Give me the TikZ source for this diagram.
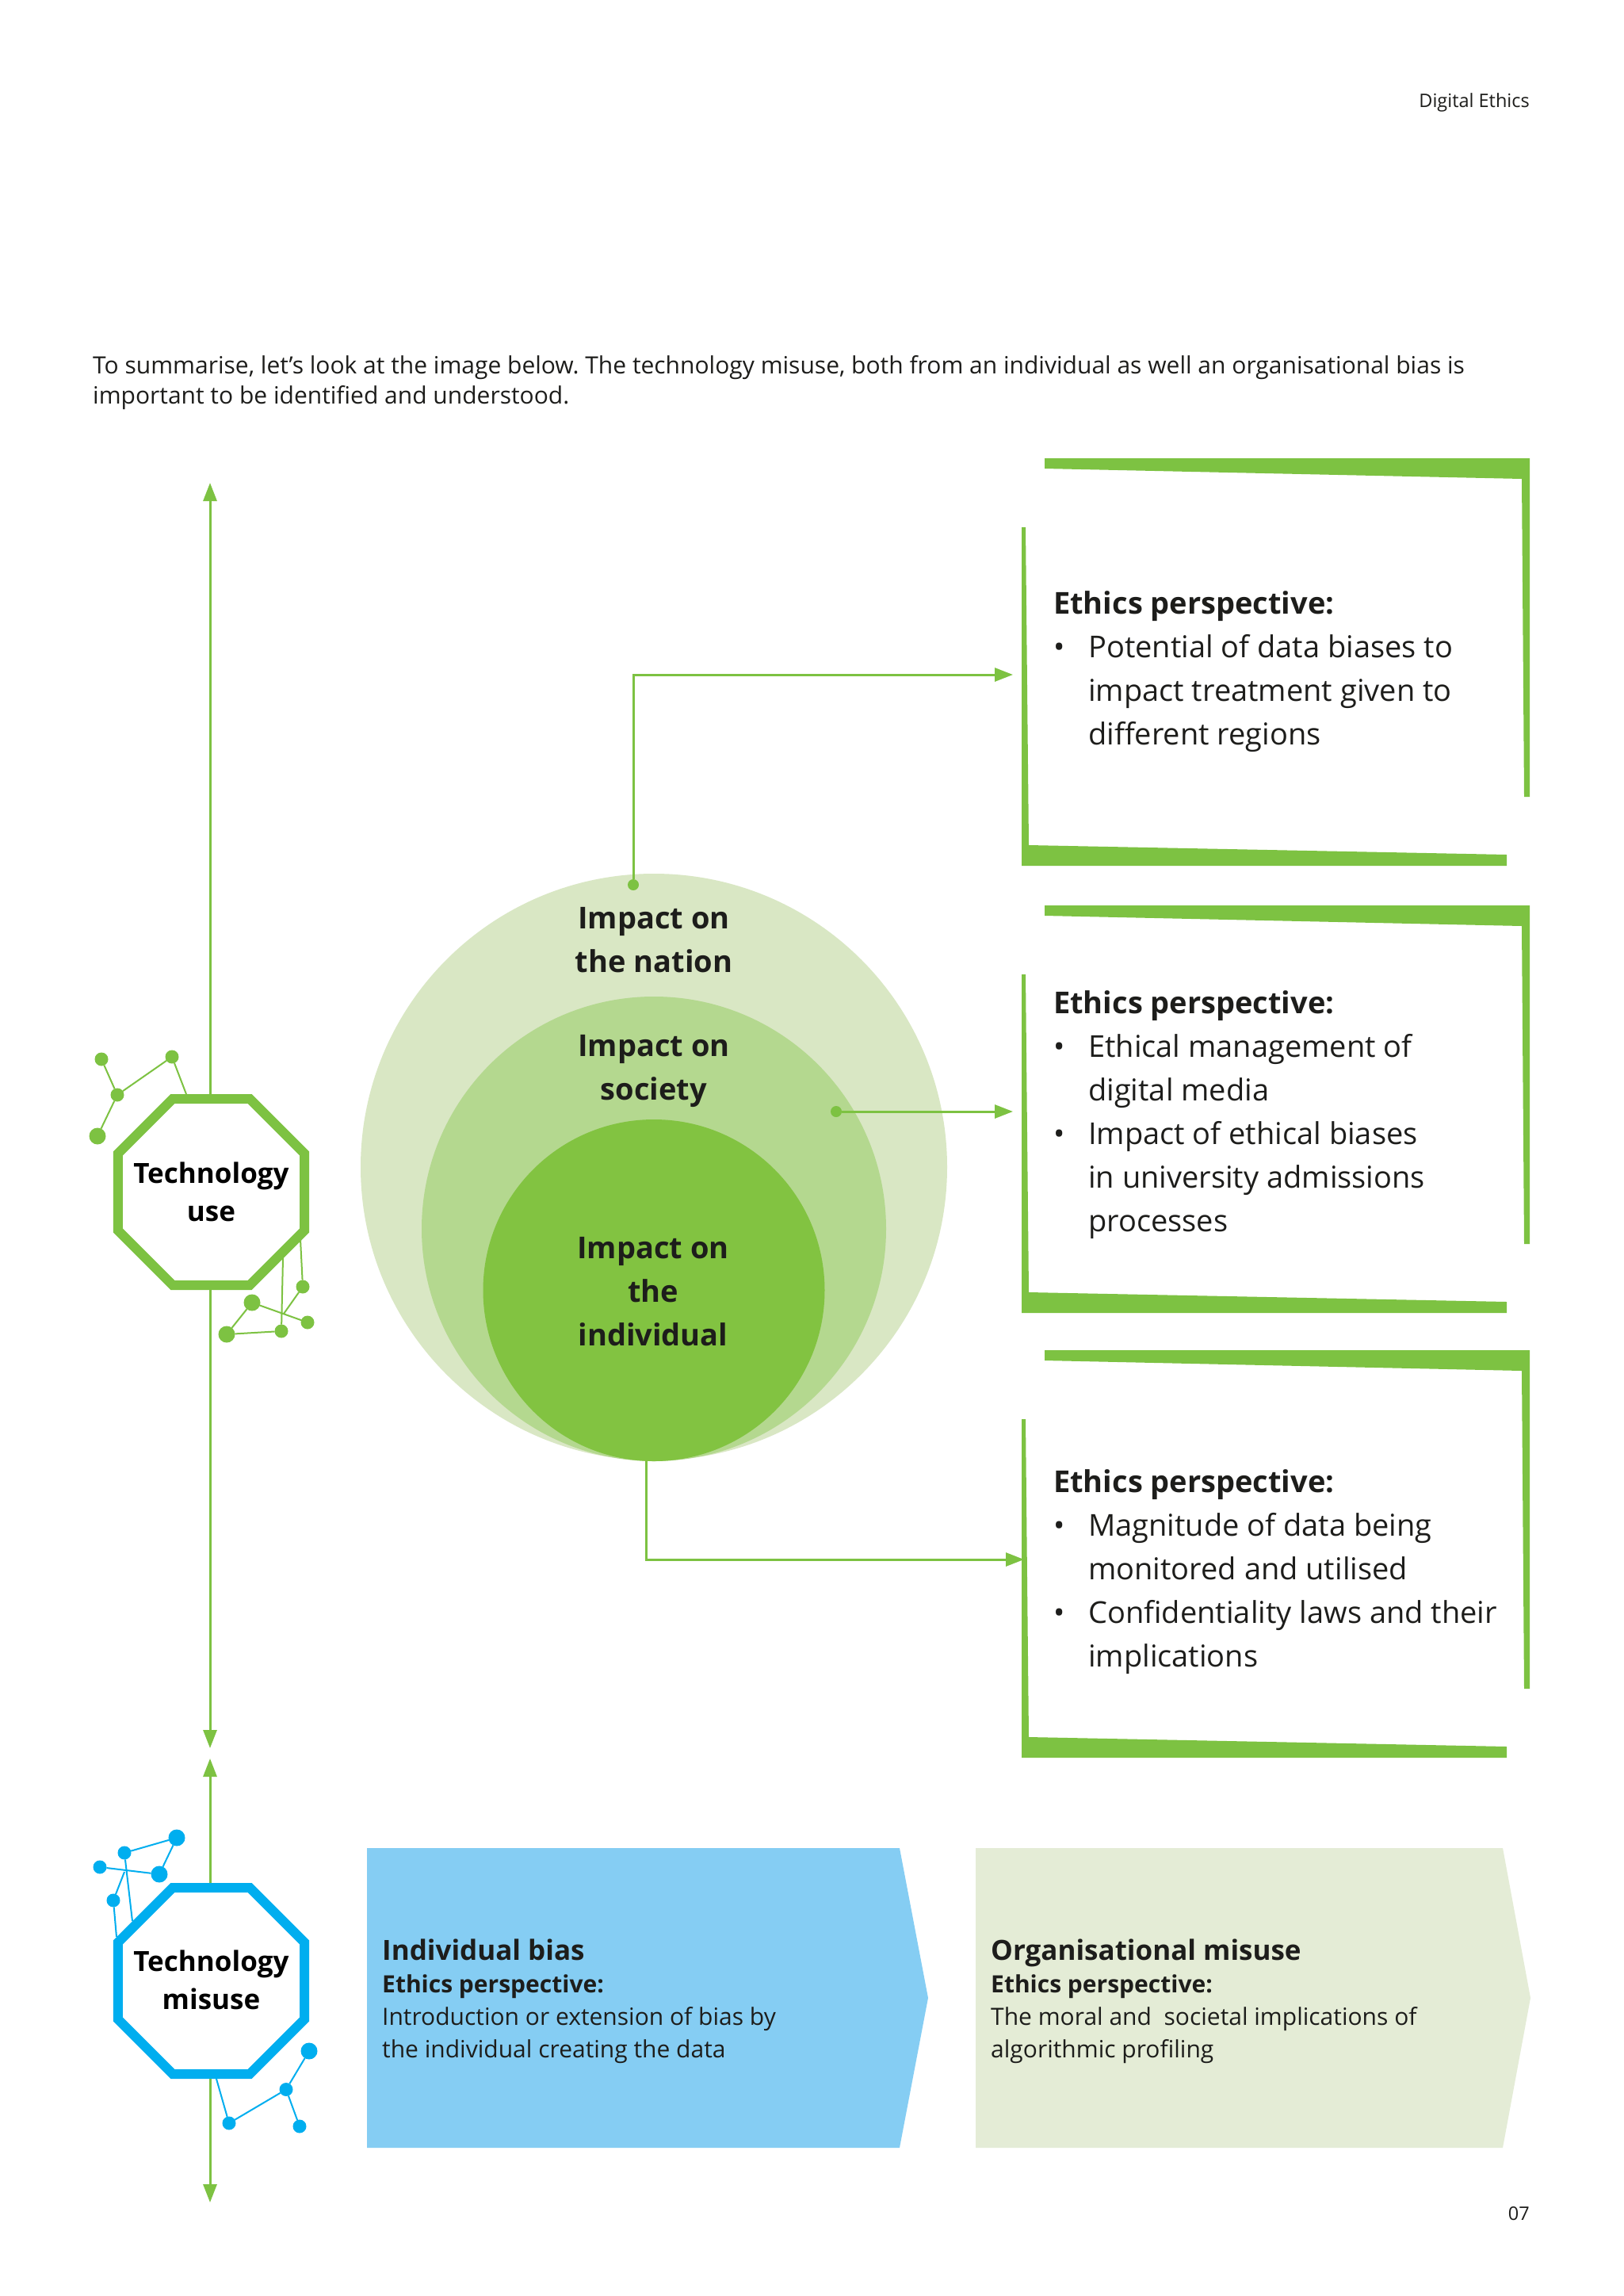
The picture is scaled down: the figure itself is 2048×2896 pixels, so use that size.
\documentclass[tikz,border=0pt]{standalone}
\usepackage{fontspec}
\setmainfont{Open Sans}
\usetikzlibrary{arrows.meta,shapes.geometric}
\frenchspacing
\definecolor{gr}{HTML}{7DC242}
\definecolor{bl}{HTML}{00AEEF}
\definecolor{cA}{HTML}{D9E7C4}
\definecolor{cB}{HTML}{B4D88F}
\definecolor{cC}{HTML}{82C341}
\definecolor{chB}{HTML}{85CDF3}
\definecolor{chG}{HTML}{E4ECD6}
\definecolor{ink}{HTML}{1D1D1B}
\newcommand{\fsz}[2]{\fontsize{#1pt}{#2pt}\selectfont}
\newcommand{\bul}{\makebox[44pt][l]{•}}
\newcommand{\ind}{\hspace*{44pt}}
\tikzset{
  x=1pt,y=-1pt,
  link/.style={gr,line width=3pt},
  arrowed/.style={link,-{Triangle[length=23pt,width=17pt]}},
  octa/.style={regular polygon,regular polygon sides=8,minimum size=254.4pt,inner sep=0pt,outer sep=0pt,
     line width=12pt,fill=white},
  octatext/.style={align=center,inner sep=0pt,text=black,font=\fsz{35}{48}\bfseries},
  gs/.style={circle,fill=gr,inner sep=0pt,outer sep=0pt,minimum size=17pt},
  gl/.style={circle,fill=gr,inner sep=0pt,outer sep=0pt,minimum size=21pt},
  bs/.style={circle,fill=bl,inner sep=0pt,outer sep=0pt,minimum size=17pt},
  bbig/.style={circle,fill=bl,inner sep=0pt,outer sep=0pt,minimum size=21pt},
  gline/.style={gr,line width=2pt},
  bline/.style={bl,line width=2pt},
  disc/.style={circle,inner sep=0pt,outer sep=0pt},
  pad/.style={circle,fill=gr,inner sep=0pt,outer sep=0pt,minimum size=14pt},
  circtext/.style={align=center,text=ink,inner sep=0pt,font=\fsz{38}{55}\bfseries},
  boxtext/.style={anchor=west,align=left,inner sep=0pt,text=ink,font=\fsz{38}{55}},
  chevtext/.style={anchor=west,align=left,inner sep=0pt,text=ink,font=\fsz{30}{41}},
  plain/.style={inner sep=0pt,text=ink,font=\fsz{23.5}{38}},
}
\newcommand{\ebrack}[1]{%
  \begin{scope}[shift={(0,#1)}]
    \fill[gr] (1318,578)--(1930,578)--(1930,1005)--(1923,1005)--(1920,604)--(1318,591)--cycle;
    \fill[gr] (1289,665)--(1294,665)--(1298,1066)--(1901,1078)--(1901,1092)--(1289,1092)--cycle;
  \end{scope}}
\begin{document}
\begin{tikzpicture}
\useasboundingbox[fill=white] (0,0) rectangle (2048,2896);
% header and intro
\node[plain,anchor=east] (head) at (1930,129) {Digital Ethics};
\node[plain,anchor=west,align=left,font=\fsz{30}{38}] (intro) at (117,483)
  {To summarise, let’s look at the image below. The technology misuse, both from an individual as well an organisational bias is\\important to be identified and understood.};
\node[plain,anchor=east] (pageno) at (1930,2792) {07};
% circles
\node[disc,fill=cA,minimum size=740pt] (nation) at (825,1472) {};
\node[disc,fill=cB,minimum size=586pt] (society) at (825,1550) {};
\node[disc,fill=cC,minimum size=431pt] (indiv) at (825,1627.5) {};
\node[circtext] (tindiv) at (824,1629) {Impact on\\the\\individual};
\node[circtext] (tnation) at (825,1186) {Impact on\\the nation};
\node[circtext] (tsociety) at (825,1351) {Impact on\\society};
% octagons
\node[octa,draw=gr] (use) at (266.5,1503.5) {};
\node[octa,draw=bl] (misuse) at (266.5,2498.5) {};
\node[octatext] (tuse) at (266.5,1503) {Technology\\use};
\node[octatext] (tmisuse) at (266.5,2497) {Technology\\misuse};
% axis
\coordinate (topT) at (265,609);
\coordinate (midT) at (265,2205);
\coordinate (midB) at (265,2218);
\coordinate (botT) at (265,2778);
\draw[arrowed] (use.north -| topT) ++(0,-6) -- (topT);
\draw[arrowed] (use.south -| topT) ++(0,6) -- (midT);
\draw[arrowed] (misuse.north -| topT) ++(0,-6) -- (midB);
\draw[arrowed] (misuse.south -| topT) ++(0,6) -- (botT);
% green molecules
\node[gs] (ga) at (128,1336) {};
\node[gs] (gb) at (217,1333) {};
\node[gs] (gc) at (148,1381) {};
\node[gl] (gd) at (123,1433) {};
\coordinate (ge1) at (235,1380);
\draw[gline] (ga)--(gc) (gc)--(gb) (gc)--(gd) (gb)--(ge1);
\node[gs] (ha) at (382,1623) {};
\node[gl] (hb) at (318,1643) {};
\node[gs] (hc) at (388,1668) {};
\node[gs] (hd) at (355,1679) {};
\node[gl] (he) at (286,1683) {};
\coordinate (he1) at (357,1587);
\coordinate (he2) at (379,1563);
\coordinate (he3) at (358,1657);
\draw[gline] (hb)--(hc) (hb)--(he) (he)--(hd) (hd)--(he1) (ha)--(he2) (ha)--(he3);
% blue molecules
\node[bbig] (ba) at (223,2318) {};
\node[bs] (bb) at (157,2337) {};
\node[bs] (bc) at (126,2355) {};
\node[bbig] (bd) at (201,2364) {};
\node[bs] (be) at (143,2397) {};
\coordinate (be1) at (167,2423);
\coordinate (be2) at (157,2361);
\coordinate (be3) at (147,2443);
\draw[bline] (bb)--(ba) (ba)--(bd) (bc)--(bd) (bb)--(be1) (be2)--(be) (be)--(be3);
\node[bbig] (ca) at (390,2587) {};
\node[bs] (cb) at (361,2635.5) {};
\node[bs] (cc) at (289,2678) {};
\node[bs] (cd) at (378,2682) {};
\coordinate (ce1) at (273,2622);
\draw[bline] (ca)--(cb) (cb)--(cc) (cb)--(cd) (cc)--(ce1);
% ethics brackets
\ebrack{0}
\ebrack{564}
\ebrack{1125}
\node[boxtext] (e1) at (1329,847) {\textbf{Ethics perspective:}\\\bul Potential of data biases to\\\ind impact treatment given to\\\ind different regions};
\node[boxtext] (e2) at (1329,1406) {\textbf{Ethics perspective:}\\\bul Ethical management of\\\ind digital media\\\bul Impact of ethical biases\\\ind in university admissions\\\ind processes};
\node[boxtext] (e3) at (1329,1983) {\textbf{Ethics perspective:}\\\bul Magnitude of data being\\\ind monitored and utilised\\\bul Confidentiality laws and their\\\ind implications};
% connectors
\node[pad] (pn) at (799,1116) {};
\node[pad] (ps) at (1055,1402) {};
\coordinate (pi) at (815,1843);
\coordinate (tn) at (1278,851);
\coordinate (ts) at (1278,1402);
\coordinate (ti) at (1292,1967);
\draw[arrowed] (pn) |- (tn);
\draw[arrowed] (ps) -- (ts);
\draw[arrowed] (pi) |- (ti);
% chevrons
\fill[chB] (463,2331)--(1135,2331)--(1171,2520)--(1135,2709)--(463,2709)--cycle;
\fill[chG] (1231,2331)--(1896,2331)--(1931,2520)--(1896,2709)--(1231,2709)--cycle;
\node[chevtext] (c1) at (482,2524) {{\fsz{35}{41}\bfseries Individual bias}\\\textbf{Ethics perspective:}\\Introduction or extension of bias by\\the individual creating the data};
\node[chevtext] (c2) at (1250,2524) {{\fsz{35}{41}\bfseries Organisational misuse}\\\textbf{Ethics perspective:}\\The moral and\ \ societal implications of\\algorithmic profiling};
\end{tikzpicture}
\end{document}
